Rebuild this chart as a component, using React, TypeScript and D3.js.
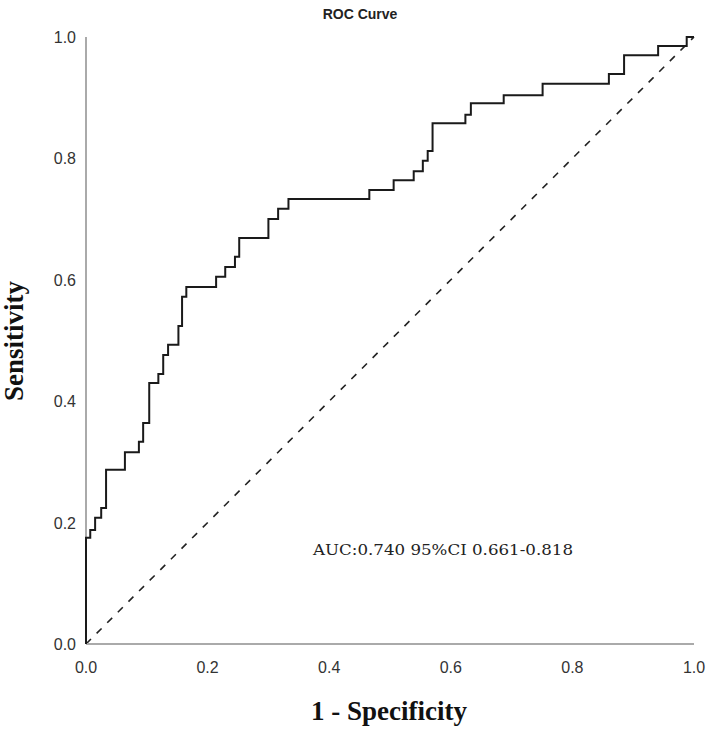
import React, { useEffect, useRef } from 'react';
import * as d3 from 'd3';

// ROC operating points: false positive rate and true positive rate after each step
const fpr = [0, 0, 0.007, 0.015, 0.025, 0.033, 0.064, 0.087, 0.094, 0.104, 0.119, 0.127, 0.135, 0.152,
  0.158, 0.165, 0.214, 0.229, 0.245, 0.252, 0.3, 0.316, 0.333, 0.466, 0.506, 0.539, 0.554, 0.562,
  0.57, 0.624, 0.633, 0.687, 0.751, 0.86, 0.885, 0.941, 0.988, 1.0];
const tpr = [0, 0.175, 0.188, 0.208, 0.224, 0.287, 0.316, 0.333, 0.364, 0.43, 0.445, 0.476, 0.493, 0.524,
  0.572, 0.588, 0.605, 0.621, 0.638, 0.669, 0.7, 0.717, 0.733, 0.748, 0.764, 0.779, 0.796, 0.812,
  0.858, 0.872, 0.891, 0.904, 0.923, 0.939, 0.97, 0.985, 1.0, 1.0];
const ticks = [0, 0.2, 0.4, 0.6, 0.8, 1.0];
const aucText = 'AUC:0.740 95%CI 0.661-0.818';

function RocChart() {
  const ref = useRef<SVGSVGElement>(null);
  const width = 709;
  const height = 730;

  useEffect(() => {
    const svg = d3.select(ref.current);
    svg.selectAll('*').remove();

    const x = d3.scaleLinear().domain([0, 1]).range([86, 694]);
    const y = d3.scaleLinear().domain([0, 1]).range([644, 37]);

    // reference diagonal
    svg.append('line')
      .attr('x1', x(0)).attr('y1', y(0))
      .attr('x2', x(1)).attr('y2', y(1))
      .attr('stroke', '#222')
      .attr('stroke-width', 1.6)
      .attr('stroke-dasharray', '7,8');

    // axis lines
    svg.append('line')
      .attr('x1', x(0)).attr('y1', y(0))
      .attr('x2', x(1)).attr('y2', y(0))
      .attr('stroke', '#aaa').attr('stroke-width', 2);
    svg.append('line')
      .attr('x1', x(0)).attr('y1', y(0))
      .attr('x2', x(0)).attr('y2', y(1))
      .attr('stroke', '#aaa').attr('stroke-width', 2);

    const pts: [number, number][] = fpr.map((f, i) => [f, tpr[i]]);
    const line = d3.line<[number, number]>()
      .x(d => x(d[0]))
      .y(d => y(d[1]))
      .curve(d3.curveStepAfter);

    svg.append('path')
      .datum(pts)
      .attr('d', line)
      .attr('fill', 'none')
      .attr('stroke', '#1a1a1a')
      .attr('stroke-width', 2);

    const tickFont = '"Liberation Sans", Arial, sans-serif';
    svg.append('g').selectAll('text').data(ticks).enter().append('text')
      .attr('x', d => x(d))
      .attr('y', 673)
      .attr('text-anchor', 'middle')
      .attr('font-family', tickFont)
      .attr('font-size', 16)
      .attr('fill', '#333')
      .text(d => d.toFixed(1));

    svg.append('g').selectAll('text').data(ticks).enter().append('text')
      .attr('x', 76)
      .attr('y', d => y(d) + 6)
      .attr('text-anchor', 'end')
      .attr('font-family', tickFont)
      .attr('font-size', 16)
      .attr('fill', '#333')
      .text(d => d.toFixed(1));

    svg.append('text')
      .attr('x', 360).attr('y', 19)
      .attr('text-anchor', 'middle')
      .attr('font-family', tickFont)
      .attr('font-weight', 'bold')
      .attr('font-size', 14)
      .attr('fill', '#222')
      .text('ROC Curve');

    svg.append('text')
      .attr('x', 389).attr('y', 720)
      .attr('text-anchor', 'middle')
      .attr('font-family', '"Liberation Serif", "Times New Roman", serif')
      .attr('font-weight', 'bold')
      .attr('font-size', 27)
      .attr('fill', '#111')
      .text('1 - Specificity');

    svg.append('text')
      .attr('transform', 'translate(23,341) rotate(-90)')
      .attr('text-anchor', 'middle')
      .attr('font-family', '"Liberation Serif", "Times New Roman", serif')
      .attr('font-weight', 'bold')
      .attr('font-size', 27)
      .attr('fill', '#111')
      .text('Sensitivity');

    svg.append('text')
      .attr('x', 313).attr('y', 555)
      .attr('font-family', '"DejaVu Serif", serif')
      .attr('font-size', 15)
      .attr('textLength', 260)
      .attr('lengthAdjust', 'spacingAndGlyphs')
      .attr('fill', '#222')
      .text(aucText);
  }, []);

  return <svg ref={ref} width={width} height={height} style={{ display: 'block', background: '#fff' }} />;
}

export default function App() {
  return (
    <div style={{ position: 'absolute', left: 0, top: 0 }}>
      <RocChart />
    </div>
  );
}
